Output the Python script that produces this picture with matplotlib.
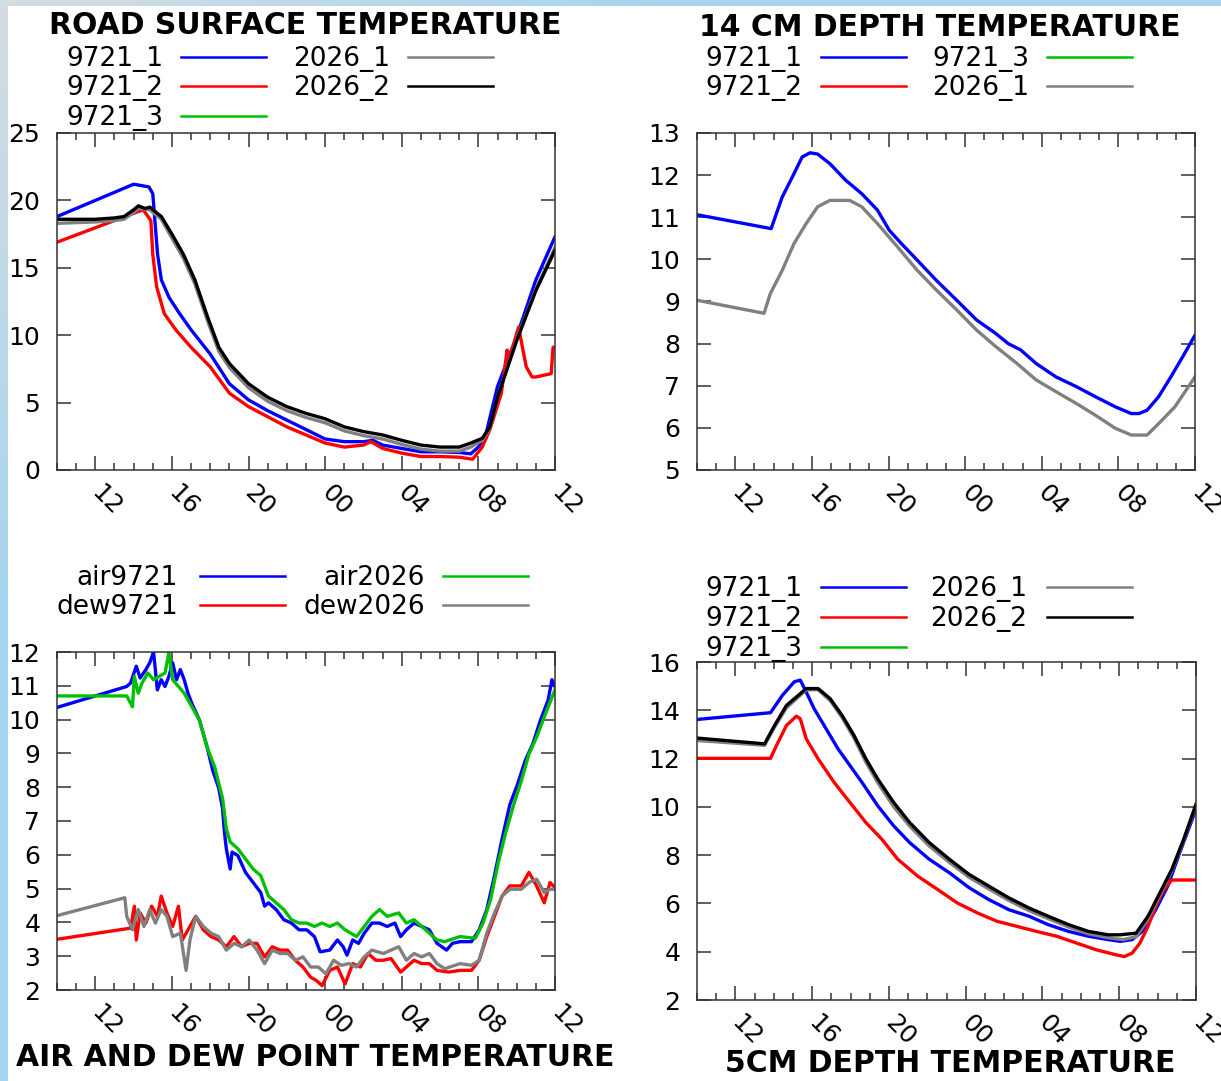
import matplotlib.pyplot as plt
import numpy as np
from matplotlib.lines import Line2D
from matplotlib.patches import Rectangle

W, H = 1221, 1081

HOUR_TICKS = [12, 16, 20, 24, 28, 32, 36]
HOUR_LABELS = ["12", "16", "20", "00", "04", "08", "12"]

BLUE, RED, GREEN, GREY, BLACK = "#0000ff", "#ff0000", "#00c000", "#808080", "#000000"

# --- road surface temperature (hours since 00 of day 1) ---
ROAD_9721_1_T = [10, 14.0, 14.8, 15.0, 15.25, 15.45, 15.85, 16.4, 17, 18, 19, 20, 21, 22, 23, 24, 25, 26,
                 26.5, 27, 28, 29, 30, 31, 31.6, 32, 32.4, 33, 34, 35, 36]
ROAD_9721_1_V = [18.8, 21.2, 21.0, 20.5, 16.0, 14.1, 12.8, 11.6, 10.4, 8.6, 6.4, 5.2, 4.4, 3.7, 3.0, 2.3, 2.1, 2.1,
                 2.2, 1.85, 1.6, 1.35, 1.35, 1.3, 1.2, 1.7, 2.7, 6.2, 9.9, 14.1, 17.3]
ROAD_9721_2_T = [10, 14.3, 14.5, 14.9, 15.0, 15.2, 15.6, 16.2, 17, 18, 19, 20, 21, 22, 23, 24, 25, 26, 26.4,
                 27, 28, 29, 30, 31, 31.7, 32.2, 32.6, 33.2, 33.5, 33.6, 34.1, 34.3, 34.5, 34.8, 35, 35.8,
                 35.9, 36]
ROAD_9721_2_V = [16.9, 19.2, 19.3, 18.5, 16.0, 13.6, 11.6, 10.4, 9.1, 7.65, 5.7, 4.7, 3.95, 3.2, 2.6, 2.0, 1.7,
                 1.85, 2.1, 1.6, 1.25, 1.0, 1.0, 0.95, 0.8, 1.7, 3.0, 5.7, 8.9, 8.2, 10.6, 9.1, 7.65, 6.9, 6.9,
                 7.15, 9.1, 9.1]
ROAD_2026_1_T = [10, 12, 13, 13.5, 14.0, 14.25, 14.85, 15.45, 16, 16.6, 17.2, 17.85, 18.45, 19, 20, 21, 22, 23,
                 24, 25, 26, 27, 28, 29, 30, 31, 31.6, 32.2, 32.6, 33, 34, 35, 36]
ROAD_2026_1_V = [18.3, 18.4, 18.5, 18.6, 19.1, 19.4, 19.3, 18.6, 17.2, 15.7, 13.8, 11.1, 8.8, 7.6, 6.1, 5.1,
                 4.4, 3.9, 3.5, 2.9, 2.55, 2.3, 1.9, 1.55, 1.4, 1.4, 1.7, 2.2, 3.1, 5.4, 9.7, 13.4, 16.5]
ROAD_2026_2_T = [10, 12, 13, 13.5, 14.0, 14.25, 14.6, 14.85, 15.1, 15.45, 16, 16.6, 17.2, 17.85, 18.45, 19, 20,
                 21, 22, 23, 24, 25, 26, 27, 28, 29, 30, 31, 31.6, 32.2, 32.6, 33, 34, 35, 36]
ROAD_2026_2_V = [18.6, 18.6, 18.7, 18.8, 19.3, 19.6, 19.4, 19.5, 19.2, 18.8, 17.5, 16.0, 14.1, 11.4, 9.1, 7.9,
                 6.4, 5.4, 4.7, 4.2, 3.8, 3.2, 2.85, 2.6, 2.2, 1.85, 1.7, 1.7, 2.0, 2.35, 3.2, 5.4, 9.6, 13.3,
                 16.3]

# --- 14 cm depth temperature ---
D14_9721_1_T = [10, 13.87, 14.45, 15.07, 15.49, 15.9, 16.3, 16.94, 17.76, 18.6, 19.42, 20.04, 20.66, 21.5,
                22.5, 23.56, 24.6, 25.6, 26.25, 26.9, 27.7, 28.74, 29.8, 30.8, 31.84, 32.67, 33.08, 33.5,
                34.1, 34.74, 35.36, 36]
D14_9721_1_V = [11.06, 10.73, 11.48, 12.04, 12.43, 12.53, 12.5, 12.27, 11.88, 11.56, 11.17, 10.69, 10.38,
                9.98, 9.5, 9.03, 8.56, 8.24, 8.0, 7.85, 7.53, 7.21, 6.98, 6.74, 6.5, 6.34, 6.34, 6.42, 6.74,
                7.21, 7.69, 8.2]
D14_2026_1_T = [10, 13.5, 13.83, 14.45, 15.07, 15.7, 16.3, 16.94, 17.97, 18.6, 19.42, 20.46, 21.5, 22.5,
                23.56, 24.6, 25.6, 26.7, 27.7, 28.74, 29.8, 30.8, 31.84, 32.67, 33.5, 34.1, 34.95, 36]
D14_2026_1_V = [9.03, 8.72, 9.19, 9.74, 10.38, 10.85, 11.25, 11.4, 11.4, 11.25, 10.85, 10.3, 9.74, 9.27, 8.8,
                8.32, 7.93, 7.53, 7.14, 6.86, 6.58, 6.3, 5.99, 5.83, 5.83, 6.1, 6.5, 7.21]

# --- air and dew point temperature ---
AIR_9721_T = [10, 13.64, 13.84, 14.14, 14.34, 14.64, 14.84, 15.04, 15.24, 15.44, 15.64, 15.84, 16.04, 16.24,
              16.44, 16.64, 16.84, 17.04, 17.44, 17.84, 18.14, 18.44, 18.64, 18.74, 18.84, 19.04, 19.14,
              19.44, 19.84, 20.24, 20.64, 20.84, 21.04, 21.44, 21.84, 22.24, 22.64, 23.04, 23.44, 23.74,
              24.24, 24.64, 24.94, 25.14, 25.44, 25.74, 26.04, 26.44, 26.84, 27.24, 27.64, 27.94, 28.24,
              28.64, 29.04, 29.44, 29.84, 30.34, 30.64, 31.04, 31.64, 32.04, 32.44, 32.84, 33.24, 33.64,
              34.04, 34.44, 34.84, 35.24, 35.64, 35.84, 36]
AIR_9721_V = [10.36, 10.98, 11.08, 11.58, 11.23, 11.48, 11.68, 12.0, 10.88, 11.18, 10.98, 11.28, 11.68,
              11.18, 11.48, 11.18, 10.78, 10.48, 9.98, 9.18, 8.48, 7.98, 7.38, 6.68, 6.18, 5.58, 6.08, 5.98,
              5.48, 5.18, 4.88, 4.48, 4.58, 4.38, 4.08, 3.98, 3.78, 3.78, 3.58, 3.13, 3.18, 3.48, 3.28, 3.03,
              3.48, 3.38, 3.68, 3.98, 3.98, 3.88, 3.98, 3.58, 3.78, 3.98, 3.88, 3.78, 3.38, 3.18, 3.38, 3.43,
              3.43, 3.78, 4.38, 5.38, 6.48, 7.48, 8.08, 8.78, 9.28, 9.98, 10.58, 11.18, 10.98]
AIR_2026_T = [10, 13.64, 13.94, 14.04, 14.24, 14.44, 14.74, 15.04, 15.34, 15.64, 15.84, 16.04, 16.34, 16.64,
              17.04, 17.44, 17.84, 18.24, 18.64, 18.84, 19.04, 19.44, 19.84, 20.24, 20.64, 21.04, 21.44,
              21.84, 22.24, 22.64, 23.04, 23.44, 23.84, 24.24, 24.64, 25.04, 25.64, 26.04, 26.44, 26.84,
              27.24, 27.84, 28.24, 28.64, 29.04, 29.44, 29.84, 30.24, 31.04, 31.84, 32.24, 32.64, 33.04,
              33.44, 33.84, 34.24, 34.64, 35.04, 35.44, 36]
AIR_2026_V = [10.7, 10.7, 10.38, 11.28, 10.78, 11.08, 11.38, 11.18, 11.28, 11.38, 11.98, 11.18, 10.98, 10.78,
              10.38, 9.98, 9.18, 8.58, 7.68, 6.78, 6.38, 6.18, 5.88, 5.58, 5.38, 4.78, 4.58, 4.38, 4.08, 3.98,
              3.98, 3.88, 3.98, 3.88, 3.98, 3.78, 3.58, 3.88, 4.18, 4.38, 4.18, 4.28, 3.98, 4.08, 3.88, 3.68,
              3.48, 3.43, 3.58, 3.53, 3.98, 4.68, 5.78, 6.68, 7.48, 8.18, 8.98, 9.48, 10.08, 10.88]
DEW_9721_T = [10, 13.84, 14.04, 14.14, 14.34, 14.64, 14.94, 15.24, 15.44, 15.74, 16.04, 16.34, 16.54, 16.84,
              17.24, 17.64, 18.04, 18.44, 18.84, 19.24, 19.64, 20.04, 20.44, 20.84, 21.24, 21.64, 22.04,
              22.44, 22.84, 23.24, 23.54, 23.84, 24.24, 24.64, 25.04, 25.44, 25.84, 26.24, 26.64, 27.04,
              27.44, 27.94, 28.24, 28.64, 29.04, 29.44, 29.84, 30.44, 31.04, 31.64, 32.04, 32.44, 32.84,
              33.24, 33.64, 34.24, 34.64, 35.04, 35.44, 35.74, 36]
DEW_9721_V = [3.5, 3.83, 4.48, 3.48, 4.28, 3.98, 4.48, 4.18, 4.78, 4.28, 3.88, 4.48, 3.48, 3.78, 4.18, 3.78,
              3.58, 3.48, 3.28, 3.58, 3.28, 3.38, 3.38, 2.98, 3.28, 3.18, 3.18, 2.88, 2.68, 2.38, 2.28, 2.13,
              2.58, 2.68, 2.18, 2.78, 2.68, 3.08, 2.88, 2.88, 2.93, 2.53, 2.68, 2.88, 2.78, 2.78, 2.58, 2.53,
              2.58, 2.58, 2.88, 3.58, 4.18, 4.78, 5.08, 5.08, 5.48, 5.08, 4.58, 5.18, 5.03]
DEW_2026_T = [10, 13.54, 13.64, 13.94, 14.24, 14.54, 14.84, 15.14, 15.44, 15.74, 16.04, 16.44, 16.74, 16.94,
              17.24, 17.64, 18.04, 18.44, 18.84, 19.24, 19.64, 20.04, 20.44, 20.84, 21.24, 21.64, 22.04,
              22.44, 22.84, 23.24, 23.64, 24.04, 24.44, 24.84, 25.24, 25.64, 26.04, 26.44, 27.04, 27.84,
              28.24, 28.64, 29.04, 29.44, 29.84, 30.24, 31.04, 31.64, 32.04, 32.44, 32.84, 33.24, 33.64,
              34.24, 34.64, 35.04, 35.44, 35.74, 36]
DEW_2026_V = [4.2, 4.73, 4.18, 3.78, 4.38, 3.88, 4.38, 3.98, 4.38, 4.18, 3.58, 3.68, 2.58, 3.48, 4.18, 3.88,
              3.68, 3.58, 3.18, 3.38, 3.28, 3.48, 3.18, 2.78, 3.18, 3.08, 3.08, 2.88, 2.98, 2.68, 2.68, 2.48,
              2.88, 2.73, 2.78, 2.68, 2.98, 3.18, 3.08, 3.28, 2.88, 3.08, 2.98, 3.08, 2.78, 2.63, 2.78, 2.73,
              2.88, 3.68, 4.28, 4.78, 4.98, 4.98, 5.18, 5.28, 4.88, 4.98, 4.98]

# --- 5 cm depth temperature ---
D5_9721_1_T = [10, 13.83, 14.45, 15.07, 15.38, 15.69, 16.1, 16.73, 17.35, 17.97, 18.6, 19.42, 20.25, 21.08,
               22.1, 23.15, 24.18, 25.2, 26.25, 27.3, 28.3, 29.36, 30.4, 31.43, 32.05, 32.67, 33.3, 33.9,
               34.53, 35.15, 36]
D5_9721_1_V = [13.62, 13.9, 14.62, 15.18, 15.25, 14.76, 14.07, 13.23, 12.4, 11.71, 11.01, 10.04, 9.21, 8.52,
               7.83, 7.27, 6.65, 6.16, 5.74, 5.47, 5.12, 4.84, 4.64, 4.5, 4.43, 4.5, 4.91, 5.74, 6.72, 8.1,
               9.9]
D5_9721_2_T = [10, 13.83, 14.14, 14.66, 15.18, 15.38, 15.69, 16.31, 17.14, 17.97, 18.8, 19.63, 20.46, 21.5,
               22.53, 23.56, 24.6, 25.63, 26.67, 27.7, 28.74, 29.77, 30.8, 31.84, 32.26, 32.67, 33.08, 33.5,
               33.9, 34.33, 34.74, 36]
D5_9721_2_V = [12.01, 12.01, 12.54, 13.37, 13.76, 13.65, 12.82, 11.99, 11.02, 10.18, 9.35, 8.66, 7.83, 7.13,
               6.58, 6.02, 5.61, 5.26, 5.05, 4.84, 4.64, 4.36, 4.08, 3.87, 3.8, 3.94, 4.36, 5.05, 5.88, 6.58,
               6.97, 6.97]
D5_2026_1_T = [10, 13.52, 14.04, 14.66, 15.28, 15.69, 16.31, 16.94, 17.56, 18.18, 18.8, 19.42, 20.25, 21.08,
               22.1, 23.15, 24.18, 25.2, 26.25, 27.3, 28.3, 29.36, 30.4, 31.43, 32.2, 32.88, 33.5, 34.12,
               34.74, 35.36, 36]
D5_2026_1_V = [12.75, 12.55, 13.3, 14.1, 14.55, 14.85, 14.85, 14.4, 13.7, 12.85, 11.85, 11.0, 10.0, 9.2,
               8.38, 7.7, 7.08, 6.6, 6.12, 5.7, 5.37, 5.02, 4.74, 4.58, 4.5, 4.62, 5.35, 6.35, 7.35, 8.62,
               10.05]
D5_2026_2_T = [10, 13.52, 14.04, 14.66, 15.28, 15.69, 16.31, 16.94, 17.56, 18.18, 18.8, 19.42, 20.25, 21.08,
               22.1, 23.15, 24.18, 25.2, 26.25, 27.3, 28.3, 29.36, 30.4, 31.43, 32.05, 32.88, 33.5, 34.12,
               34.74, 35.36, 36]
D5_2026_2_V = [12.85, 12.61, 13.37, 14.2, 14.62, 14.9, 14.9, 14.48, 13.79, 12.96, 11.99, 11.15, 10.18, 9.35,
               8.52, 7.83, 7.2, 6.72, 6.23, 5.81, 5.47, 5.12, 4.84, 4.7, 4.7, 4.77, 5.47, 6.44, 7.41, 8.66,
               10.11]


def fig_xy(x, y):
    """Pixel position (origin top-left) to figure fraction."""
    return x / W, 1 - y / H


def make_axes(fig, box, ylim, yticks):
    x0, y0, x1, y1 = box
    ax = fig.add_axes([x0 / W, 1 - y1 / H, (x1 - x0) / W, (y1 - y0) / H])
    ax.set_xlim(10, 36)
    ax.set_ylim(*ylim)
    ax.set_xticks(HOUR_TICKS)
    ax.set_xticklabels(HOUR_LABELS, rotation=-45, ha="left", va="center", rotation_mode="anchor")
    ax.set_xticks(range(10, 37), minor=True)
    ax.set_yticks(yticks)
    ax.tick_params(which="both", direction="in", top=True, right=True, width=1.1, color="#333333",
                   labelsize=18)
    ax.tick_params(which="major", length=10)
    ax.tick_params(which="minor", length=5)
    ax.tick_params(axis="y", pad=12)
    ax.tick_params(axis="x", pad=14)
    for side in ax.spines.values():
        side.set_linewidth(1.1)
        side.set_color("#333333")
    return ax


def draw_legend(fig, entries, text_right, line_x, rows):
    """gnuplot-style key: right-aligned label then a line sample, filled column by column."""
    nrows = len(rows)
    for i, (label, color) in enumerate(entries):
        col, row = divmod(i, nrows)
        y = rows[row]
        fig.text(*fig_xy(text_right[col], y + 9), label, ha="right", va="baseline", fontsize=19)
        (xa, xb) = line_x[col]
        fig.add_artist(Line2D([xa / W, xb / W], [1 - y / H, 1 - y / H], color=color, lw=1.8,
                              transform=fig.transFigure))


def title(fig, x, y, text):
    fig.text(*fig_xy(x, y), text, ha="center", va="center", fontsize=21.5, fontweight="bold")


def main():
    plt.rcParams["font.family"] = "DejaVu Sans"
    fig = plt.figure(figsize=(W / 100, H / 100), dpi=100)

    # light blue frame behind the white page
    bg = fig.add_axes([0, 0, 1, 1], zorder=-10)
    xx, yy = np.meshgrid(np.linspace(0, 1, 200), np.linspace(0, 1, 200))
    mix = np.clip((xx + yy) / 0.55, 0, 1)[..., None]
    grey = np.array([0.835, 0.867, 0.886])
    blue = np.array([0.655, 0.835, 0.937])
    bg.imshow(grey * (1 - mix) + blue * mix, extent=[0, W, H, 0], aspect="auto")
    bg.add_patch(Rectangle((8, 6), W - 8, H - 6, facecolor="white", edgecolor="none"))
    bg.set_xlim(0, W)
    bg.set_ylim(H, 0)
    bg.axis("off")

    lw = 2.4

    # road surface
    ax = make_axes(fig, (57, 133, 555, 470), (0, 25), range(0, 26, 5))
    ax.plot(ROAD_9721_1_T, ROAD_9721_1_V, color=BLUE, lw=lw)
    ax.plot(ROAD_9721_2_T, ROAD_9721_2_V, color=RED, lw=lw)
    ax.plot(ROAD_2026_1_T, ROAD_2026_1_V, color=GREY, lw=lw)
    ax.plot(ROAD_2026_2_T, ROAD_2026_2_V, color=BLACK, lw=lw)
    title(fig, 305, 26, "ROAD SURFACE TEMPERATURE")
    draw_legend(fig, [("9721_1", BLUE), ("9721_2", RED), ("9721_3", GREEN), ("2026_1", GREY), ("2026_2", BLACK)],
                [163, 390], [(181, 266), (408, 493)], [57, 86, 116])

    # 14 cm depth
    ax = make_axes(fig, (697, 133, 1195, 470), (5, 13), range(5, 14))
    ax.plot(D14_9721_1_T, D14_9721_1_V, color=BLUE, lw=lw)
    ax.plot(D14_2026_1_T, D14_2026_1_V, color=GREY, lw=lw)
    title(fig, 940, 27, "14 CM DEPTH TEMPERATURE")
    draw_legend(fig, [("9721_1", BLUE), ("9721_2", RED), ("9721_3", GREEN), ("2026_1", GREY)],
                [802, 1029], [(821, 906), (1047, 1132)], [57, 86])

    # air and dew point
    ax = make_axes(fig, (57, 652, 555, 990), (2, 12), range(2, 13))
    ax.plot(AIR_9721_T, AIR_9721_V, color=BLUE, lw=lw)
    ax.plot(DEW_9721_T, DEW_9721_V, color=RED, lw=lw)
    ax.plot(AIR_2026_T, AIR_2026_V, color=GREEN, lw=lw)
    ax.plot(DEW_2026_T, DEW_2026_V, color=GREY, lw=lw)
    title(fig, 315, 1057, "AIR AND DEW POINT TEMPERATURE")
    draw_legend(fig, [("air9721", BLUE), ("dew9721", RED), ("air2026", GREEN), ("dew2026", GREY)],
                [178, 425], [(200, 285), (443, 528)], [576, 605])

    # 5 cm depth
    ax = make_axes(fig, (697, 662, 1196, 1000), (2, 16), range(2, 17, 2))
    ax.plot(D5_9721_1_T, D5_9721_1_V, color=BLUE, lw=lw)
    ax.plot(D5_9721_2_T, D5_9721_2_V, color=RED, lw=lw)
    ax.plot(D5_2026_1_T, D5_2026_1_V, color=GREY, lw=lw)
    ax.plot(D5_2026_2_T, D5_2026_2_V, color=BLACK, lw=lw)
    title(fig, 950, 1063, "5CM DEPTH TEMPERATURE")
    draw_legend(fig, [("9721_1", BLUE), ("9721_2", RED), ("9721_3", GREEN), ("2026_1", GREY), ("2026_2", BLACK)],
                [802, 1027], [(821, 906), (1047, 1132)], [587, 617, 647])

    fig.savefig("out.png", dpi=100)
    plt.close(fig)


if __name__ == "__main__":
    main()
